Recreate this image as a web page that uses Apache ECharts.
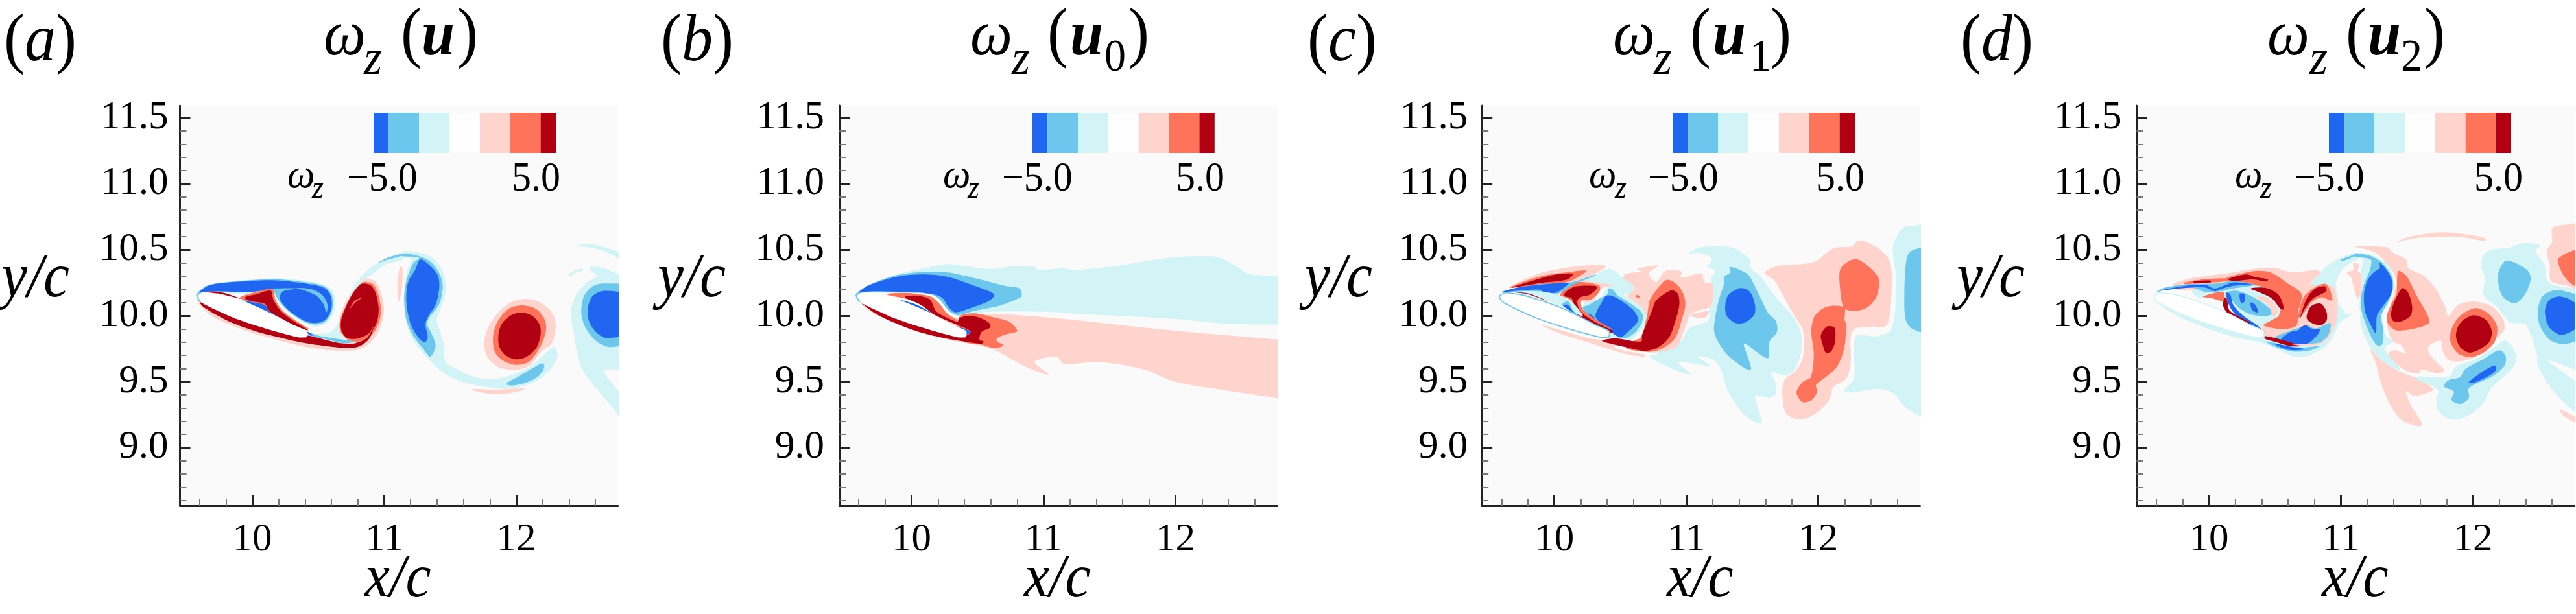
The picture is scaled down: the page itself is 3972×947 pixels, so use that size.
<!DOCTYPE html>
<html><head><meta charset="utf-8">
<script src="https://cdn.jsdelivr.net/npm/echarts@6/dist/echarts.min.js"></script>
<style>html,body{margin:0;padding:0;background:#fff}#c{width:3972px;height:947px}</style></head>
<body><div id="c"></div>
<script>
const DB='#2166f0',MB='#6dc6ec',LB='#d3f4f7',BG='#fafafa',LR='#ffd4cc',MR='#fe7359',DR='#b00012',WH='#ffffff';
const xMajor=[10,11,12];
const xMinor=[9.6,9.8,10.2,10.4,10.6,10.8,11.2,11.4,11.6,11.8,12.2,12.4,12.6];
const yMajor=[9,9.5,10,10.5,11,11.5];
const yMinor=[8.6,8.7,8.8,8.9,9.1,9.2,9.3,9.4,9.6,9.7,9.8,9.9,10.1,10.2,10.3,10.4,10.6,10.7,10.8,10.9,11.1,11.2,11.3,11.4];
const cbLevels=[-5,-4.167,-2.5,-0.833,0.833,2.5,4.167,5];
const cbColors=[DB,MB,LB,'#fefefe',LR,MR,DR];
const airfoil=[[9.587,10.153],[9.628,10.174],[9.759,10.157],[9.906,10.113],[10.054,10.059],[10.201,9.989],[10.316,9.928],[10.414,9.884],[10.411,9.838],[10.349,9.837],[10.185,9.879],[10.021,9.928],[9.857,9.985],[9.710,10.051],[9.611,10.103],[9.587,10.133]];
const leadEdge=[[9.595,10.182],[9.575,10.155],[9.600,10.105],[9.612,10.105],[9.587,10.15],[9.62,10.178]];

/* panel a */
const a_lb1=[[9.582,10.169],[9.644,10.228],[9.792,10.256],[9.988,10.272],[10.168,10.284],[10.349,10.272],[10.512,10.244],[10.602,10.198],[10.630,10.116],[10.614,10.018],[10.561,9.944],[10.480,9.917],[10.381,9.953],[10.250,10.043],[10.168,10.133],[10.136,10.190],[10.021,10.174],[9.873,10.162],[9.710,10.179],[9.611,10.179]];
const a_mb1=[[9.587,10.174],[9.677,10.234],[9.873,10.259],[10.168,10.277],[10.381,10.256],[10.545,10.223],[10.602,10.157],[10.607,10.051],[10.561,9.961],[10.480,9.933],[10.381,9.961],[10.250,10.059],[10.185,10.141],[10.152,10.198],[10.037,10.185],[9.923,10.179],[9.759,10.182],[9.628,10.179]];
const a_db1=[[9.595,10.179],[9.677,10.231],[9.873,10.256],[10.152,10.269],[10.381,10.247],[10.545,10.211],[10.595,10.149],[10.599,10.051],[10.553,9.969],[10.480,9.944],[10.399,9.961],[10.283,10.034],[10.218,10.108],[10.210,10.149],[10.235,10.185],[10.333,10.206],[10.168,10.206],[10.037,10.185],[9.940,10.177],[9.759,10.185],[9.644,10.182]];
const a_mbArc=[[10.333,10.211],[10.447,10.201],[10.530,10.157],[10.571,10.083],[10.562,10.026],[10.538,10.091],[10.489,10.149],[10.399,10.190]];
const a_mr1=[[9.910,10.142],[10.021,10.178],[10.152,10.201],[10.177,10.116],[10.235,10.034],[10.333,9.960],[10.432,9.895],[10.284,9.936],[10.153,10.005],[10.095,10.075],[10.005,10.103],[9.923,10.124]];
const a_dr1=[[9.948,10.142],[10.030,10.162],[10.139,10.190],[10.161,10.116],[10.218,10.034],[10.300,9.968],[10.423,9.890],[10.284,9.939],[10.161,10.009],[10.120,10.050],[10.095,10.091],[10.005,10.108],[9.951,10.124]];
const a_db2=[[9.931,10.116],[10.005,10.103],[10.095,10.080],[10.128,10.034],[10.194,9.998],[10.120,10.024],[10.054,10.059]];
const a_dr2=[[9.644,10.179],[9.759,10.179],[9.915,10.128],[9.759,10.165]];
const a_dr3=[[9.603,10.103],[9.710,10.050],[9.858,9.985],[10.022,9.927],[10.186,9.878],[10.358,9.837],[10.415,9.850],[10.530,9.824],[10.644,9.796],[10.760,9.788],[10.817,9.804],[10.875,9.837],[10.916,9.911],[10.907,9.870],[10.875,9.813],[10.809,9.768],[10.727,9.755],[10.579,9.768],[10.382,9.796],[10.186,9.840],[10.022,9.883],[9.841,9.949],[9.694,10.026],[9.620,10.075]];
const a_lr1=[[9.587,10.116],[9.677,10.009],[9.841,9.927],[10.022,9.862],[10.186,9.817],[10.382,9.768],[10.579,9.739],[10.743,9.734],[10.842,9.758],[10.924,9.829],[10.973,9.919],[10.998,10.050],[10.973,10.182],[10.932,10.260],[10.858,10.283],[10.809,10.264],[10.760,10.198],[10.702,10.100],[10.661,9.969],[10.661,9.870],[10.710,9.811],[10.530,9.837],[10.358,9.870],[9.956,10.034]];
const a_mr2=[[10.848,10.255],[10.915,10.239],[10.953,10.165],[10.976,10.042],[10.960,9.952],[10.924,9.878],[10.875,9.829],[10.809,9.804],[10.727,9.818],[10.669,9.878],[10.664,9.960],[10.707,10.075],[10.760,10.173],[10.809,10.231]];
const a_dr4=[[10.825,10.241],[10.891,10.234],[10.932,10.178],[10.957,10.059],[10.948,9.968],[10.915,9.895],[10.858,9.850],[10.776,9.824],[10.710,9.837],[10.674,9.895],[10.674,9.968],[10.710,10.067],[10.760,10.165]];
const a_mr3=[[10.740,10.054],[10.776,10.113],[10.833,10.136],[10.784,10.103]];
const a_mr4=[[10.875,9.845],[10.916,9.916],[10.904,9.870],[10.858,9.829]];
const a_lb2=[[10.411,9.883],[10.480,9.862],[10.596,9.878],[10.653,9.952],[10.710,10.100],[10.776,10.231],[10.874,10.346],[11.006,10.428],[11.137,10.469],[11.137,10.424],[11.006,10.387],[10.907,10.313],[10.825,10.256],[10.760,10.173],[10.710,10.067],[10.669,9.969],[10.669,9.887],[10.710,9.830],[10.776,9.802],[10.644,9.792],[10.530,9.824]];
const a_mb2=[[10.414,9.879],[10.480,9.854],[10.611,9.829],[10.776,9.805],[10.693,9.792],[10.545,9.825],[10.447,9.846]];
const a_mb6=[[10.948,10.398],[11.037,10.444],[11.137,10.469],[11.137,10.457],[11.037,10.428]];
const a_db6=[[10.414,9.879],[10.464,9.851],[10.431,9.854]];
const a_lr4=[[11.107,10.313],[11.122,10.375],[11.138,10.362],[11.135,10.214],[11.110,10.108],[11.099,10.214]];
const a_lb3=[[11.135,10.485],[11.233,10.485],[11.348,10.452],[11.430,10.362],[11.471,10.214],[11.438,10.083],[11.397,9.968],[11.422,9.886],[11.455,9.771],[11.463,9.656],[11.561,9.591],[11.693,9.533],[11.840,9.522],[11.988,9.558],[12.119,9.624],[12.201,9.697],[12.283,9.763],[12.313,9.706],[12.283,9.624],[12.185,9.525],[12.053,9.468],[11.906,9.446],[11.758,9.463],[11.611,9.492],[11.463,9.558],[11.348,9.656],[11.250,9.771],[11.184,9.886],[11.151,10.050],[11.151,10.214],[11.176,10.345],[11.204,10.430],[11.135,10.444]];
const a_mb3=[[11.135,10.468],[11.233,10.460],[11.348,10.411],[11.422,10.312],[11.443,10.214],[11.414,10.083],[11.340,9.984],[11.324,9.935],[11.356,9.870],[11.389,9.771],[11.348,9.689],[11.291,9.755],[11.217,9.853],[11.168,9.968],[11.151,10.132],[11.168,10.263],[11.217,10.394],[11.263,10.440],[11.135,10.452]];
const a_db3=[[11.274,10.427],[11.348,10.378],[11.406,10.304],[11.417,10.214],[11.389,10.083],[11.332,9.993],[11.312,9.935],[11.329,9.837],[11.307,9.799],[11.258,9.837],[11.201,9.935],[11.171,10.066],[11.168,10.181],[11.184,10.263],[11.233,10.345]];
const a_lr2=[[12.070,10.127],[12.185,10.099],[12.275,10.017],[12.299,9.919],[12.267,9.788],[12.185,9.722],[12.103,9.624],[12.004,9.591],[11.873,9.607],[11.791,9.673],[11.755,9.771],[11.783,9.902],[11.857,10.017],[11.955,10.099]];
const a_mr5=[[12.045,10.078],[12.152,10.050],[12.217,9.968],[12.225,9.886],[12.185,9.771],[12.103,9.656],[12.004,9.627],[11.906,9.656],[11.840,9.722],[11.824,9.837],[11.857,9.952],[11.939,10.050]];
const a_dr5=[[12.037,10.025],[12.119,10.001],[12.176,9.935],[12.185,9.861],[12.152,9.755],[12.078,9.689],[12.004,9.669],[11.922,9.697],[11.873,9.763],[11.865,9.853],[11.889,9.935],[11.955,10.001]];
const a_mb4=[[11.922,9.484],[12.021,9.542],[12.119,9.599],[12.201,9.640],[12.212,9.607],[12.168,9.542],[12.070,9.492],[11.971,9.471]];
const a_lr3=[[11.660,9.443],[11.857,9.440],[12.066,9.450],[12.021,9.427],[11.906,9.407],[11.758,9.414]];
const a_lb4=[[12.562,10.370],[12.660,10.362],[12.778,10.312],[12.82,10.30],[12.82,9.21],[12.709,9.328],[12.611,9.443],[12.513,9.574],[12.463,9.706],[12.439,9.853],[12.414,10.017],[12.447,10.148],[12.529,10.247],[12.611,10.304],[12.562,10.345]];
const a_bg1=[[12.663,9.588],[12.84,9.566],[12.84,9.378],[12.709,9.509]];
const a_mb5=[[12.660,10.244],[12.84,10.214],[12.84,9.804],[12.709,9.763],[12.611,9.804],[12.529,9.902],[12.493,10.017],[12.513,10.148],[12.578,10.222]];
const a_db5=[[12.668,10.189],[12.84,10.148],[12.84,9.870],[12.685,9.832],[12.611,9.870],[12.554,9.952],[12.542,10.050],[12.578,10.148]];
const a_lb5=[[12.463,10.531],[12.545,10.545],[12.676,10.517],[12.84,10.452],[12.84,10.403],[12.676,10.485],[12.562,10.517]];
const a_lb6=[[12.398,10.309],[12.431,10.337],[12.504,10.357],[12.504,10.342],[12.439,10.321],[12.411,10.296]];

/* panel b */
const b_lr1=[[10.350,9.985],[10.596,10.014],[11.141,9.976],[11.611,9.926],[12.082,9.878],[12.778,9.819],[12.84,9.81],[12.84,9.365],[12.778,9.374],[12.332,9.442],[11.988,9.501],[11.768,9.591],[11.423,9.650],[11.154,9.635],[11.096,9.690],[10.932,9.649],[11.039,9.558],[11.006,9.558],[10.842,9.624],[10.629,9.739],[10.481,9.780],[10.301,9.813],[10.039,9.878],[9.858,9.949],[9.711,10.018],[9.609,10.096],[9.620,10.116],[10.0,10.0]];
const b_lb1=[[9.593,10.173],[9.678,10.231],[9.891,10.313],[10.104,10.362],[10.268,10.392],[10.399,10.378],[10.596,10.354],[10.760,10.375],[10.941,10.367],[10.949,10.349],[11.154,10.359],[11.235,10.347],[11.549,10.377],[11.925,10.436],[12.301,10.448],[12.458,10.377],[12.552,10.317],[12.778,10.303],[12.84,10.303],[12.84,9.93],[12.778,9.932],[12.395,9.938],[11.988,9.976],[11.611,9.997],[11.298,10.012],[11.016,10.030],[10.608,10.030],[10.350,10.001],[10.301,10.034],[10.203,10.141],[10.137,10.173],[9.891,10.173],[9.645,10.177]];
const b_mb1=[[9.593,10.173],[9.678,10.234],[9.891,10.308],[10.088,10.332],[10.268,10.329],[10.498,10.280],[10.711,10.226],[10.818,10.206],[10.834,10.149],[10.793,10.124],[10.662,10.075],[10.465,10.034],[10.350,10.004],[10.285,10.034],[10.203,10.132],[10.137,10.165],[9.891,10.178],[9.645,10.177]];
const b_db1=[[9.596,10.177],[9.678,10.231],[9.891,10.296],[10.088,10.313],[10.268,10.296],[10.465,10.231],[10.613,10.173],[10.626,10.146],[10.563,10.100],[10.449,10.059],[10.334,10.026],[10.285,10.059],[10.235,10.132],[10.186,10.157],[10.055,10.178],[9.891,10.182],[9.727,10.185],[9.645,10.182]];
const b_mr1=[[10.367,9.998],[10.481,10.018],[10.629,9.985],[10.744,9.952],[10.801,9.883],[10.727,9.862],[10.645,9.829],[10.649,9.804],[10.695,9.775],[10.629,9.755],[10.531,9.780],[10.399,9.804],[10.35,9.9]];
const b_mr2=[[9.809,10.162],[9.916,10.173],[10.022,10.168],[10.145,10.145],[10.211,10.091],[10.268,10.018],[10.350,9.960],[10.301,9.949],[10.170,10.018],[10.104,10.067],[9.973,10.124]];
const b_dr1=[[9.948,10.145],[10.039,10.152],[10.137,10.124],[10.186,10.034],[10.268,9.985],[10.350,9.952],[10.358,9.977],[10.416,9.998],[10.514,9.985],[10.588,9.944],[10.596,9.911],[10.531,9.878],[10.514,9.821],[10.547,9.804],[10.531,9.788],[10.399,9.804],[10.203,9.840],[10.039,9.883],[9.858,9.952],[9.711,10.026],[9.620,10.100],[9.727,10.050],[10.039,9.927],[10.375,9.837],[10.449,9.878],[10.301,9.949],[10.170,10.009],[10.104,10.059],[10.055,10.091],[9.957,10.132]];
const b_db2=[[9.916,10.119],[10.039,10.083],[10.153,10.018],[10.039,10.067]];
const b_db3=[[10.350,9.916],[10.449,9.878],[10.424,9.857],[10.399,9.878]];

/* panel c */
const c_lb1=[[11.097,10.517],[11.343,10.517],[11.474,10.435],[11.491,10.361],[11.564,10.296],[11.671,10.148],[11.802,10.000],[11.868,9.877],[11.868,9.721],[11.819,9.590],[11.753,9.549],[11.638,9.574],[11.671,9.508],[11.679,9.410],[11.622,9.377],[11.523,9.393],[11.573,9.197],[11.540,9.184],[11.425,9.262],[11.310,9.442],[11.269,9.574],[11.245,9.623],[11.195,9.672],[11.092,9.690],[11.187,9.615],[11.097,9.630],[10.936,9.649],[11.034,9.558],[11.001,9.558],[10.870,9.608],[10.722,9.690],[10.788,9.714],[10.657,9.739],[10.952,9.804],[11.018,9.903],[11.149,9.952],[11.179,10.000],[11.171,10.041],[11.195,10.115],[11.204,10.197],[11.187,10.279],[11.220,10.345],[11.163,10.369],[11.195,10.435],[11.097,10.476],[11.018,10.469]];
const c_lb7=[[12.639,10.664],[12.704,10.681],[12.84,10.672],[12.84,9.229],[12.778,9.238],[12.655,9.311],[12.573,9.410],[12.458,9.446],[12.245,9.418],[12.196,9.434],[12.270,9.525],[12.270,9.787],[12.294,9.853],[12.442,9.844],[12.557,9.902],[12.589,10.279],[12.565,10.525]];
const c_mb7=[[12.84,10.500],[12.721,10.500],[12.671,10.443],[12.652,10.148],[12.663,9.967],[12.712,9.902],[12.84,9.877]];
const c_lr6=[[11.594,10.325],[11.687,10.377],[11.966,10.407],[12.114,10.512],[12.253,10.525],[12.311,10.571],[12.458,10.509],[12.540,10.418],[12.557,10.279],[12.540,10.000],[12.507,9.918],[12.409,9.918],[12.278,9.902],[12.245,9.836],[12.245,9.639],[12.212,9.525],[12.114,9.459],[12.081,9.361],[11.983,9.262],[11.868,9.213],[11.769,9.246],[11.737,9.311],[11.728,9.459],[11.753,9.525],[11.835,9.590],[11.884,9.689],[11.884,9.885],[11.819,10.000],[11.753,10.115],[11.671,10.263]];
const c_mr5=[[12.278,10.430],[12.376,10.377],[12.458,10.279],[12.442,10.148],[12.376,10.066],[12.294,10.038],[12.196,10.058],[12.163,10.230],[12.171,10.361]];
const c_mr6=[[12.065,10.069],[12.196,10.063],[12.199,9.967],[12.212,9.935],[12.196,9.754],[12.147,9.623],[12.065,9.541],[11.983,9.475],[11.991,9.426],[11.950,9.361],[11.884,9.344],[11.851,9.377],[11.835,9.426],[11.884,9.500],[11.942,9.533],[11.966,9.705],[11.947,9.885],[11.974,10.000]];
const c_dr6=[[12.065,9.918],[12.122,9.910],[12.127,9.803],[12.097,9.730],[12.056,9.721],[12.032,9.787],[12.019,9.853]];
const c_mb5=[[11.327,10.369],[11.409,10.345],[11.474,10.304],[11.556,10.148],[11.622,10.017],[11.679,9.959],[11.687,9.877],[11.630,9.803],[11.622,9.680],[11.573,9.697],[11.450,9.787],[11.433,9.787],[11.491,9.598],[11.458,9.593],[11.310,9.705],[11.228,9.828],[11.209,9.910],[11.245,10.115],[11.286,10.246],[11.286,10.295],[11.335,10.328]];
const c_db6=[[11.409,10.210],[11.482,10.181],[11.520,10.082],[11.515,10.008],[11.450,9.951],[11.376,9.943],[11.310,9.992],[11.294,10.066],[11.318,10.156]];
const c_lr1=[[10.534,10.313],[10.657,10.337],[10.624,10.354],[10.788,10.382],[10.714,10.321],[10.772,10.255],[10.837,10.337],[10.960,10.337],[10.960,10.288],[11.116,10.321],[11.136,10.255],[11.195,10.246],[11.204,10.148],[11.179,10.066],[11.097,10.041],[11.026,10.009],[11.018,9.985],[10.952,9.804],[10.919,9.755],[10.755,9.722],[10.624,9.755],[10.697,9.952],[10.657,10.067],[10.558,10.149],[10.608,10.206],[10.526,10.264]];
const c_lr3=[[9.894,9.932],[10.034,9.895],[10.263,9.829],[10.460,9.804],[10.460,9.755],[10.681,9.706],[10.681,9.690],[10.526,9.714],[10.263,9.796],[10.050,9.862]];
const c_lr4=[[11.026,10.004],[11.097,10.025],[11.171,10.033],[11.146,9.987],[11.097,9.981]];
const c_lr2=[[9.656,10.214],[9.886,10.321],[10.132,10.370],[10.378,10.387],[10.386,10.367],[10.296,10.313],[10.116,10.255],[9.886,10.247]];
const c_mr1=[[9.665,10.214],[9.886,10.296],[10.099,10.329],[10.244,10.341],[10.198,10.305],[10.099,10.255],[9.886,10.234]];
const c_dr1=[[9.681,10.214],[9.886,10.280],[10.017,10.313],[10.140,10.316],[10.091,10.272],[9.886,10.247]];
const c_lb2=[[9.886,10.182],[10.042,10.190],[10.132,10.247],[10.312,10.316],[10.427,10.354],[10.526,10.280],[10.608,10.214],[10.542,10.157],[10.44,10.2],[10.296,10.255],[10.13,10.2],[10.042,10.15],[9.968,10.15]];
const c_lb3=[[10.411,10.214],[10.542,10.149],[10.657,10.067],[10.698,10.001],[10.690,9.936],[10.624,9.854],[10.575,9.817],[10.411,9.829],[10.296,9.936],[10.214,10.050],[10.247,10.116],[10.345,10.132]];
const c_mb2=[[10.411,10.206],[10.444,10.198],[10.476,10.157],[10.591,10.083],[10.665,10.018],[10.665,9.952],[10.616,9.878],[10.558,9.837],[10.509,9.829],[10.427,9.878],[10.312,9.952],[10.214,10.059],[10.263,10.083],[10.345,10.132],[10.403,10.165]];
const c_db2=[[10.394,10.152],[10.460,10.141],[10.591,10.050],[10.632,9.985],[10.624,9.944],[10.558,9.878],[10.501,9.837],[10.427,9.878],[10.353,9.936],[10.312,9.993],[10.321,10.034],[10.353,10.091]];
const c_db3=[[10.260,10.018],[10.312,9.977],[10.296,9.960]];
const c_lr5=[[10.181,10.267],[10.296,10.255],[10.444,10.231],[10.353,10.206],[10.296,10.116],[10.230,10.100],[10.206,10.116],[10.042,10.152]];
const c_mr2=[[10.042,10.152],[10.099,10.214],[10.181,10.255],[10.337,10.231],[10.345,10.190],[10.280,10.124],[10.206,10.116],[10.214,10.050],[10.329,9.960],[10.444,9.895],[10.165,10.001],[10.124,10.116]];
const c_dr2=[[10.070,10.152],[10.099,10.190],[10.165,10.223],[10.312,10.226],[10.321,10.206],[10.263,10.157],[10.198,10.141],[10.173,10.108],[10.198,10.034],[10.296,9.960],[10.444,9.883],[10.424,9.867],[10.263,9.949],[10.173,10.009],[10.140,10.116],[10.124,10.136]];
const c_mr3=[[10.854,10.272],[10.927,10.239],[10.977,10.165],[10.993,10.083],[10.960,9.952],[10.919,9.837],[10.837,9.763],[10.722,9.726],[10.542,9.755],[10.608,9.813],[10.657,9.837],[10.706,10.018],[10.722,10.116],[10.788,10.214]];
const c_dr3=[[10.886,10.193],[10.936,10.165],[10.947,10.083],[10.919,9.968],[10.870,9.837],[10.788,9.763],[10.690,9.734],[10.558,9.758],[10.362,9.809],[10.460,9.829],[10.657,9.804],[10.665,9.854],[10.739,10.034],[10.772,10.116]];
const c_mr4=[[10.624,10.157],[10.650,10.146],[10.632,10.132],[10.619,10.146]];
const c_mb3=[[9.599,10.182],[9.886,10.239],[10.132,10.255],[10.312,10.313],[10.304,10.301],[10.148,10.239],[10.042,10.173],[9.935,10.165],[9.870,10.182],[9.706,10.182]];
const c_db4=[[9.599,10.178],[9.722,10.214],[9.886,10.234],[10.107,10.247],[10.042,10.190],[10.001,10.173],[9.935,10.173],[9.886,10.198],[9.722,10.190]];
const c_lb4=[[9.722,10.178],[9.870,10.185],[10.017,10.162],[10.124,10.113],[10.214,9.998],[9.968,10.108]];
const c_mb4=[[10.058,10.086],[10.107,10.108],[10.140,10.042],[10.198,9.985],[10.132,10.026]];
const c_db5=[[10.066,10.075],[10.099,10.083],[10.148,10.026],[10.206,9.988]];
const c_dr4=[[9.689,10.178],[9.804,10.162],[9.952,10.108],[9.804,10.169]];

/* panel d */
const d_lr2=[[11.101,10.525],[11.355,10.517],[11.396,10.476],[11.495,10.427],[11.511,10.361],[11.626,10.304],[11.724,10.197],[11.790,10.066],[11.814,10.000],[11.888,10.082],[12.019,10.107],[12.150,10.066],[12.233,9.967],[12.233,9.885],[12.150,9.803],[12.019,9.689],[11.888,9.653],[11.806,9.672],[11.765,9.754],[11.757,9.812],[11.667,9.771],[11.667,9.721],[11.732,9.639],[11.782,9.590],[11.741,9.561],[11.609,9.593],[11.593,9.561],[11.495,9.582],[11.380,9.672],[11.363,9.721],[11.421,9.738],[11.486,9.713],[11.454,9.779],[11.396,9.803],[11.347,9.951],[11.413,10.279],[11.265,10.476]];
const d_lr3=[[11.224,9.746],[11.314,9.656],[11.454,9.574],[11.577,9.525],[11.700,9.443],[11.642,9.410],[11.552,9.393],[11.495,9.426],[11.527,9.328],[11.618,9.172],[11.560,9.167],[11.454,9.213],[11.363,9.344],[11.298,9.508],[11.265,9.639]];
const d_lr4=[[11.421,10.558],[11.527,10.599],[11.757,10.632],[11.954,10.615],[12.093,10.587],[12.093,10.566],[11.921,10.594],[11.757,10.599],[11.560,10.587]];
const d_lr5=[[12.602,10.664],[12.716,10.692],[12.84,10.689],[12.84,10.197],[12.706,10.230],[12.591,10.263],[12.583,10.386],[12.559,10.492],[12.600,10.558]];
const d_mr5=[[12.649,10.435],[12.84,10.500],[12.84,10.206],[12.739,10.247],[12.674,10.329]];
const d_lr6=[[12.666,9.289],[12.84,9.190],[12.84,9.158],[12.739,9.207],[12.673,9.256]];
const d_lb2=[[12.059,10.402],[12.117,10.492],[12.280,10.517],[12.379,10.550],[12.510,10.533],[12.474,10.492],[12.543,10.386],[12.559,10.279],[12.600,10.238],[12.84,10.16],[12.84,9.559],[12.739,9.605],[12.575,9.657],[12.84,9.435],[12.84,9.238],[12.706,9.328],[12.575,9.475],[12.493,9.623],[12.485,9.705],[12.444,9.836],[12.395,9.935],[12.280,9.951],[12.183,10.066],[12.080,10.156],[12.093,10.279]];
const d_mb2=[[12.241,10.413],[12.298,10.410],[12.413,10.345],[12.438,10.279],[12.396,10.164],[12.323,10.095],[12.249,10.123],[12.208,10.181],[12.191,10.312]];
const d_mb3=[[12.626,10.194],[12.741,10.173],[12.84,10.140],[12.84,9.853],[12.706,9.787],[12.592,9.812],[12.511,9.918],[12.492,10.033],[12.528,10.148]];
const d_db3=[[12.642,10.145],[12.716,10.131],[12.79,10.082],[12.84,9.951],[12.724,9.869],[12.658,9.856],[12.575,9.918],[12.546,10.033],[12.575,10.115]];
const d_mr2=[[11.434,10.337],[11.494,10.304],[11.576,10.148],[11.658,10.000],[11.666,9.943],[11.592,9.911],[11.429,9.887],[11.363,9.928],[11.347,9.993],[11.380,10.083],[11.421,10.164]];
const d_dr2=[[11.470,10.210],[11.511,10.172],[11.540,10.066],[11.527,10.000],[11.453,9.955],[11.396,9.960],[11.380,10.009],[11.396,10.083],[11.437,10.172]];
const d_mr3=[[12.019,10.058],[12.117,10.017],[12.183,9.919],[12.166,9.804],[12.084,9.722],[11.986,9.686],[11.888,9.713],[11.830,9.804],[11.839,9.902],[11.904,10.000]];
const d_dr3=[[12.011,10.004],[12.101,9.967],[12.142,9.885],[12.126,9.804],[12.052,9.746],[11.970,9.721],[11.904,9.762],[11.872,9.844],[11.888,9.918],[11.937,9.975]];
const d_lb3=[[11.560,9.533],[11.822,9.541],[11.871,9.615],[12.019,9.669],[12.150,9.754],[12.248,9.812],[12.322,9.721],[12.314,9.623],[12.134,9.443],[12.084,9.344],[11.969,9.246],[11.838,9.213],[11.740,9.279],[11.723,9.377],[11.740,9.434]];
const d_mb4=[[11.781,9.464],[11.814,9.510],[11.904,9.535],[11.937,9.592],[12.084,9.673],[12.199,9.738],[12.248,9.697],[12.240,9.623],[12.150,9.541],[11.970,9.451],[11.970,9.377],[11.904,9.331],[11.839,9.361],[11.855,9.426]];
const d_db4=[[11.967,9.495],[12.069,9.574],[12.167,9.623],[12.170,9.582],[12.101,9.534],[12.002,9.490]];
const d_lb1=[[10.766,10.239],[10.832,10.321],[10.955,10.419],[11.103,10.473],[11.232,10.463],[11.347,10.394],[11.404,10.263],[11.372,10.115],[11.314,10.017],[11.322,9.918],[11.347,9.844],[11.396,9.803],[11.331,9.754],[11.454,9.587],[11.314,9.656],[11.216,9.771],[11.150,9.935],[11.142,10.049],[11.101,10.033],[11.078,10.009],[10.988,9.944],[10.963,9.886],[10.889,9.771],[10.775,9.706],[10.660,9.686],[10.529,9.739],[10.414,9.804],[10.397,9.845],[10.529,9.853],[10.791,9.919],[10.775,10.116]];
const d_bg1=[[10.963,10.239],[10.996,10.329],[11.062,10.395],[11.152,10.436],[11.166,10.435],[11.150,10.312],[11.142,10.115],[11.134,10.041],[11.101,10.025],[11.029,10.017],[10.988,10.083]];
const d_lb9=[[10.996,10.053],[11.029,10.042],[11.012,10.021]];
const d_lr7=[[11.095,10.403],[11.139,10.386],[11.127,10.337],[11.152,10.321],[11.152,10.181],[11.127,10.129],[11.094,10.222],[11.078,10.288],[11.045,10.329],[11.094,10.345]];
const d_mb1=[[11.101,10.473],[11.216,10.456],[11.306,10.407],[11.383,10.304],[11.396,10.213],[11.355,10.099],[11.306,10.000],[11.322,9.885],[11.314,9.787],[11.281,9.771],[11.240,9.820],[11.183,9.951],[11.150,10.082],[11.167,10.213],[11.224,10.361],[11.224,10.427],[11.101,10.451]];
const d_mb10=[[11.0,10.424],[11.103,10.463],[11.103,10.452],[11.004,10.411]];
const d_db1=[[11.294,10.402],[11.347,10.345],[11.388,10.263],[11.380,10.164],[11.314,10.066],[11.273,10.000],[11.265,9.869],[11.224,9.935],[11.183,10.033],[11.175,10.164],[11.199,10.263],[11.248,10.328],[11.294,10.361]];
const d_lr1=[[9.725,10.239],[9.889,10.288],[10.135,10.321],[10.332,10.354],[10.496,10.362],[10.627,10.329],[10.807,10.345],[10.848,10.329],[10.766,10.239],[10.939,10.222],[10.972,10.083],[10.963,9.952],[10.873,9.804],[10.709,9.771],[10.414,9.853],[10.397,9.919],[10.102,10.181],[9.758,10.198]];
const d_lb6=[[9.873,10.190],[9.971,10.206],[10.086,10.247],[10.299,10.255],[10.430,10.222],[10.529,10.206],[10.611,10.140],[10.611,10.050],[10.545,9.985],[10.463,9.960],[10.365,9.911],[10.250,10.001],[10.135,10.099],[10.069,10.132],[9.938,10.132],[9.889,10.157]];
const d_lb8=[[9.590,10.149],[9.627,10.083],[9.807,9.976],[10.135,9.853],[10.397,9.796],[10.545,9.739],[10.397,9.845],[9.9,10.0],[9.7,10.1]];
const d_mr1=[[10.119,10.283],[10.332,10.337],[10.463,10.329],[10.594,10.247],[10.701,10.165],[10.676,10.034],[10.663,9.927],[10.561,9.899],[10.414,9.927],[10.479,9.968],[10.529,10.001],[10.545,10.099],[10.496,10.165],[10.397,10.222],[10.201,10.239],[10.135,10.263]];
const d_lr8=[[10.397,10.152],[10.496,10.099],[10.520,10.017],[10.479,9.998],[10.447,10.083],[10.365,10.135]];
const d_dr7=[[10.143,10.277],[10.283,10.313],[10.348,10.293],[10.447,10.275],[10.438,10.259],[10.332,10.275],[10.184,10.263]];
const d_dr8=[[9.881,10.260],[10.012,10.267],[10.012,10.252],[9.889,10.250]];
const d_mr8=[[9.807,10.250],[9.971,10.277],[10.119,10.283],[10.135,10.263],[9.971,10.250],[9.815,10.239]];
const d_dr9=[[10.315,10.206],[10.430,10.211],[10.529,10.157],[10.569,10.050],[10.545,10.050],[10.479,10.129],[10.381,10.178]];
const d_mb6=[[9.594,10.173],[9.659,10.211],[9.840,10.239],[10.053,10.244],[10.184,10.263],[10.348,10.234],[10.184,10.206],[10.086,10.185],[9.971,10.181],[9.873,10.211],[9.659,10.195]];
const d_db6=[[9.627,10.190],[9.823,10.227],[9.971,10.234],[10.045,10.206],[10.184,10.252],[10.332,10.234],[10.184,10.227],[10.086,10.201],[10.045,10.186],[9.971,10.214],[9.823,10.211]];
const d_mb7=[[10.127,10.173],[10.201,10.190],[10.266,10.173],[10.365,10.124],[10.463,10.050],[10.471,10.009],[10.397,9.998],[10.299,10.017],[10.217,10.067],[10.168,10.124]];
const d_db7=[[10.233,10.165],[10.269,10.162],[10.271,10.108],[10.243,10.099]];
const d_db8=[[10.315,10.099],[10.348,10.086],[10.373,10.026],[10.329,10.042]];
const d_db9=[[10.127,10.173],[10.160,10.165],[10.184,10.083],[10.250,10.009],[10.365,9.927],[10.427,9.870],[10.365,9.899],[10.250,9.968],[10.168,10.050]];
const d_dr10=[[10.110,10.132],[10.135,10.129],[10.155,10.042],[10.250,9.981],[10.315,9.944],[10.250,9.952],[10.151,10.009],[10.110,10.067]];
const d_mr9=[[9.955,10.145],[10.110,10.181],[10.110,10.113],[10.020,10.132]];
const d_mr11=[[10.676,9.985],[10.717,10.140],[10.807,10.217],[10.889,10.239],[10.935,10.116],[10.848,10.140],[10.775,10.099],[10.717,10.017]];
const d_dr11=[[10.689,9.976],[10.742,10.132],[10.807,10.206],[10.881,10.222],[10.889,10.185],[10.791,10.132],[10.725,10.050]];
const d_lr9=[[10.758,10.067],[10.824,10.113],[10.889,10.091],[10.922,10.001],[10.889,9.919],[10.807,9.911],[10.742,9.944],[10.725,10.017]];
const d_dr12=[[10.783,10.080],[10.848,10.091],[10.889,10.034],[10.893,9.968],[10.857,9.932],[10.791,9.939],[10.742,9.976],[10.750,10.034]];
const d_mb8=[[10.496,9.829],[10.611,9.886],[10.693,9.911],[10.742,9.927],[10.807,9.903],[10.919,9.944],[10.903,9.853],[10.824,9.788],[10.660,9.780]];
const d_db13=[[10.545,9.817],[10.611,9.873],[10.676,9.890],[10.701,9.916],[10.734,9.927],[10.775,9.903],[10.840,9.894],[10.815,9.845],[10.742,9.788],[10.627,9.791]];
const d_dr14=[[10.422,9.845],[10.529,9.824],[10.693,9.771],[10.611,9.771],[10.496,9.804],[10.427,9.824]];
const d_mb9=[[10.430,9.804],[10.545,9.785],[10.693,9.759],[10.832,9.768],[10.758,9.735],[10.627,9.730],[10.496,9.768]];
const d_db14=[[10.496,9.788],[10.627,9.763],[10.733,9.747],[10.627,9.739],[10.545,9.760]];
const d_lr15=[[10.627,9.780],[10.791,9.775],[10.889,9.807],[10.807,9.791]];

const layersA=[[LR,a_lr1],[LR,a_lr2],[LR,a_lr3],[LR,a_lr4],[LB,a_lb1],[LB,a_lb2],[LB,a_lb3],[LB,a_lb4],[LB,a_lb5],[LB,a_lb6],[BG,a_bg1],[MB,a_mb1],[MB,a_mb3],[MB,a_mb4],[MB,a_mb5],[DB,a_db1],[MB,a_mbArc],[DB,a_db3],[DB,a_db5],[MR,a_mr1],[DR,a_dr1],[MR,a_mr2],[DR,a_dr4],[MR,a_mr3],[MR,a_mr4],[MR,a_mr5],[DR,a_dr5],[DR,a_dr3],[MB,a_mb2],[MB,a_mb6],[DB,a_db6],[DB,a_db2],[DR,a_dr2],[WH,airfoil],[MB,leadEdge]];
const layersB=[[LR,b_lr1],[LB,b_lb1],[MB,b_mb1],[DB,b_db1],[MR,b_mr1],[MR,b_mr2],[DR,b_dr1],[DB,b_db2],[DB,b_db3],[WH,airfoil],[MB,leadEdge]];
const layersC=[[LB,c_lb1],[LB,c_lb7],[MB,c_mb7],[LR,c_lr6],[MR,c_mr5],[MR,c_mr6],[DR,c_dr6],[MB,c_mb5],[DB,c_db6],[LR,c_lr1],[LR,c_lr3],[LR,c_lr4],[LR,c_lr2],[MR,c_mr1],[DR,c_dr1],[LB,c_lb2],[LB,c_lb3],[MB,c_mb2],[DB,c_db2],[DB,c_db3],[LR,c_lr5],[MR,c_mr2],[DR,c_dr2],[MR,c_mr3],[DR,c_dr3],[MR,c_mr4],[MB,c_mb3],[DB,c_db4],[LB,c_lb4],[MB,c_mb4],[DB,c_db5],[WH,airfoil,MB],[DR,c_dr4]];
const layersD=[[LR,d_lr3],[LR,d_lr4],[LB,d_lb2],[LR,d_lr5],[MR,d_mr5],[LR,d_lr6],[MB,d_mb2],[MB,d_mb3],[DB,d_db3],[LR,d_lr2],[MR,d_mr2],[DR,d_dr2],[MR,d_mr3],[DR,d_dr3],[LB,d_lb3],[MB,d_mb4],[DB,d_db4],[LB,d_lb1],[BG,d_bg1],[LB,d_lb9],[LR,d_lr7],[MB,d_mb1],[MB,d_mb10],[DB,d_db1],[LR,d_lr1],[LB,d_lb8],[LB,d_lb6],[MR,d_mr1],[LR,d_lr8],[MB,d_mb7],[DB,d_db7],[DB,d_db8],[DR,d_dr9],[MR,d_mr8],[DR,d_dr8],[DR,d_dr7],[MB,d_mb6],[DB,d_db6],[DB,d_db9],[DR,d_dr10],[MR,d_mr9],[MR,d_mr11],[DR,d_dr11],[LR,d_lr9],[DR,d_dr12],[MB,d_mb8],[DB,d_db13],[MB,d_mb9],[DB,d_db14],[DR,d_dr14],[LR,d_lr15],[WH,airfoil,LB]];
const panels=[layersA,layersB,layersC,layersD];

/* layout */
const gridLeft=[277.5,1294.1,2285.2,3294.5];
const barLeft=[576,1591.8,2579,3591];
const yLabelMargin=[18,23,22,23];
const barW=281;
const ink='#000';
const S='Liberation Serif';
const runs=[
 ['(',6,94,96,''],['a',38,94,96,'italic'],[')',86,94,96,''],
 ['(',1019,94,96,''],['b',1051,94,96,'italic'],[')',1099,94,96,''],
 ['(',2016,94,96,''],['c',2048,94,96,'italic'],[')',2091,94,96,''],
 ['(',3023,94,96,''],['d',3055,94,96,'italic'],[')',3103,94,96,''],
 ['ω',499,85,92,'italic'],['z',561,115,72,'italic'],['(',618,85,96,''],['u',650,85,92,'italic bold'],[')',705,85,96,''],
 ['ω',1496,85,92,'italic'],['z',1560,115,72,'italic'],['(',1615,85,96,''],['u',1650,85,92,'italic bold'],['0',1703,110,66,''],[')',1740,85,96,''],
 ['ω',2487,85,92,'italic'],['z',2550,115,72,'italic'],['(',2606,85,96,''],['u',2641,85,92,'italic bold'],['1',2698,110,66,''],[')',2730,85,96,''],
 ['ω',3496,85,92,'italic'],['z',3561,115,72,'italic'],['(',3617,85,96,''],['u',3651,85,92,'italic bold'],['2',3702,110,66,''],[')',3738,85,96,''],
 ['ω',443,289,60,'italic'],['z',481,305,46,'italic'],['−5.0',535,294,60,''],['5.0',789,294,60,''],
 ['ω',1454,289,60,'italic'],['z',1492,305,46,'italic'],['−5.0',1545,294,60,''],['5.0',1813,294,60,''],
 ['ω',2450,289,60,'italic'],['z',2490,305,46,'italic'],['−5.0',2541,294,60,''],['5.0',2800,294,60,''],
 ['ω',3446,289,60,'italic'],['z',3485,305,46,'italic'],['−5.0',3537,294,60,''],['5.0',3815,294,60,''],
 ['y/c',2,458,90,'italic'],['y/c',1014,458,90,'italic'],['y/c',2011,458,90,'italic'],['y/c',3017,458,90,'italic'],
 ['x/c',562,921,88,'italic'],['x/c',1579,921,88,'italic'],['x/c',2570,921,88,'italic'],['x/c',3580,921,88,'italic']
];

const grids=[],xAxes=[],yAxes=[],series=[];
const ticks=(major)=>({show:true,inside:true,length:major?16:10,lineStyle:{color:major?'#222':'#777',width:major?3:2}});
panels.forEach((layers,p)=>{
  const g=grids.length;
  grids.push({left:gridLeft[p],top:163,width:675.4,height:617,show:true,backgroundColor:BG,borderWidth:0});
  const ax0=xAxes.length,ay0=yAxes.length;
  xAxes.push({type:'value',gridIndex:g,position:'bottom',min:9.452,max:12.771,splitLine:{show:false},
    axisLine:{show:true,onZero:false,lineStyle:{color:'#222',width:3}},
    axisTick:Object.assign(ticks(false),{customValues:xMinor}),
    axisLabel:{customValues:xMajor,margin:22,fontFamily:S,fontSize:61,color:ink,inside:false,formatter:v=>String(v)}});
  xAxes.push({type:'value',gridIndex:g,position:'bottom',min:9.452,max:12.771,splitLine:{show:false},
    axisLine:{show:false,onZero:false},axisTick:Object.assign(ticks(true),{customValues:xMajor}),axisLabel:{show:false}});
  yAxes.push({type:'value',gridIndex:g,position:'left',min:8.56,max:11.592,splitLine:{show:false},
    axisLine:{show:true,onZero:false,lineStyle:{color:'#222',width:3}},
    axisTick:Object.assign(ticks(false),{customValues:yMinor}),
    axisLabel:{customValues:yMajor,margin:yLabelMargin[p],fontFamily:S,fontSize:61,color:ink,formatter:v=>v.toFixed(1)}});
  yAxes.push({type:'value',gridIndex:g,position:'left',min:8.56,max:11.592,splitLine:{show:false},
    axisLine:{show:false,onZero:false},axisTick:Object.assign(ticks(true),{customValues:yMajor}),axisLabel:{show:false}});
  series.push({type:'custom',xAxisIndex:ax0,yAxisIndex:ay0,clip:true,silent:true,animation:false,
    data:layers.map(l=>l[1][0]),
    renderItem:(params,api)=>{
      const l=layers[params.dataIndex];
      const isFoil=l[1]===airfoil;
      return {type:'polygon',shape:{points:l[1].map(q=>api.coord(q)),smooth:isFoil?0.2:0.3},
        style:{fill:l[0],stroke:l[2]||null,lineWidth:l[2]?1.8:0}};
    }});
});
panels.forEach((_,p)=>{
  const g=grids.length;
  grids.push({left:barLeft[p],top:174,width:barW,height:62,show:false});
  const ax=xAxes.length,ay=yAxes.length;
  xAxes.push({type:'value',gridIndex:g,min:-5,max:5,show:false});
  yAxes.push({type:'value',gridIndex:g,min:0,max:1,show:false});
  series.push({type:'custom',xAxisIndex:ax,yAxisIndex:ay,silent:true,animation:false,z:5,
    data:cbColors.map((c,i)=>[cbLevels[i],cbLevels[i+1]]),
    renderItem:(params,api)=>{
      const a=api.coord([api.value(0),1]),b=api.coord([api.value(1),0]);
      return {type:'rect',shape:{x:a[0],y:a[1],width:b[0]-a[0],height:b[1]-a[1]},style:{fill:cbColors[params.dataIndex]}};
    }});
});
const graphics=runs.map(r=>({type:'text',silent:true,z:10,originX:r[1],originY:r[2],scaleY:1.07,
  style:{text:r[0],x:r[1],y:r[2]-r[3]*0.27,fill:ink,verticalAlign:'middle',align:'left',
    fontFamily:S,fontSize:r[3],fontStyle:r[4].includes('italic')?'italic':'normal',fontWeight:r[4].includes('bold')?'bold':'normal'}}));
const chart=echarts.init(document.getElementById('c'),null,{renderer:'canvas'});
chart.setOption({animation:false,backgroundColor:'#ffffff',grid:grids,xAxis:xAxes,yAxis:yAxes,series:series,graphic:{elements:graphics}});
</script></body></html>
